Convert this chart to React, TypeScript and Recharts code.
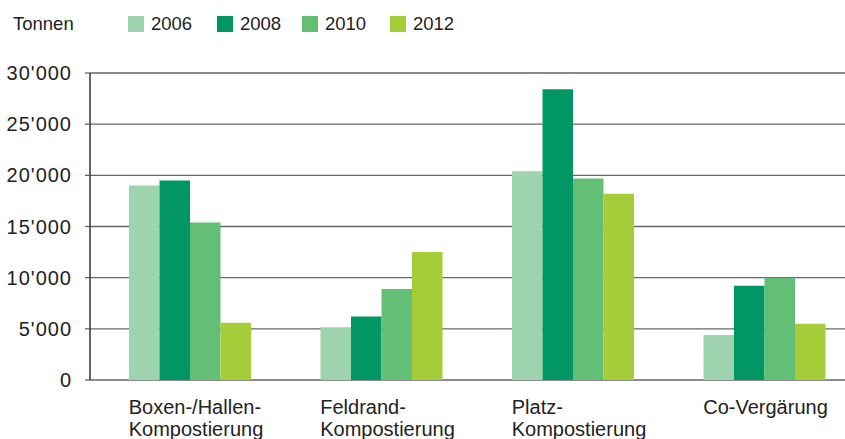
import { Bar, BarChart, CartesianGrid, XAxis, YAxis } from 'recharts';

const categories = [
    'Boxen-/Hallen-\nKompostierung',
    'Feldrand-\nKompostierung',
    'Platz-\nKompostierung',
    'Co-Vergärung',
];
const years = ['2006', '2008', '2010', '2012'];
const values2006 = [19000, 5150, 20400, 4400];
const values2008 = [19500, 6200, 28400, 9200];
const values2010 = [15400, 8900, 19700, 10000];
const values2012 = [5600, 12500, 18200, 5500];
const yTicks = [0, 5000, 10000, 15000, 20000, 25000, 30000];

const colors = ['#9dd3ad', '#009765', '#63bf76', '#a4cd39'];
const font = '"Liberation Sans", Arial, sans-serif';
const textColor = '#222';

const data = categories.map((name, i) => ({
    name,
    y2006: values2006[i],
    y2008: values2008[i],
    y2010: values2010[i],
    y2012: values2012[i],
}));

const formatTick = (v: number) =>
    v >= 1000 ? `${Math.floor(v / 1000)}'${String(v % 1000).padStart(3, '0')}` : String(v);

function CategoryTick({ x, y, payload }: any) {
    const lines = String(payload.value).split('\n');
    return (
        <text
            x={x - 61}
            y={y}
            fill={textColor}
            fontFamily={font}
            fontSize={20}
            textAnchor="start"
        >
            {lines.map((line, i) => (
                <tspan key={i} x={x - 61} y={y + 34 + i * 22}>
                    {line}
                </tspan>
            ))}
        </text>
    );
}

export default function App() {
    const legendX = [128, 217, 302, 390];
    return (
        <div
            style={{
                position: 'fixed',
                left: 0,
                top: 0,
                width: 845,
                height: 439,
                overflow: 'hidden',
                background: '#fff',
                fontFamily: font,
                color: textColor,
            }}
        >
            <div
                style={{
                    position: 'absolute',
                    left: 13,
                    top: 13,
                    fontSize: 18.5,
                    lineHeight: '22px',
                }}
            >
                Tonnen
            </div>
            {years.map((year, i) => (
                <div key={year}>
                    <div
                        style={{
                            position: 'absolute',
                            left: legendX[i],
                            top: 16,
                            width: 16,
                            height: 16,
                            background: colors[i],
                        }}
                    />
                    <div
                        style={{
                            position: 'absolute',
                            left: legendX[i] + 23,
                            top: 13,
                            fontSize: 18.5,
                            lineHeight: '22px',
                        }}
                    >
                        {year}
                    </div>
                </div>
            ))}
            <BarChart
                width={860}
                height={439}
                data={data}
                margin={{ top: 73, right: 0, bottom: 0, left: 0 }}
                barGap={0}
                barSize={30.5}
                style={{ position: 'absolute', left: 0, top: 0 }}
            >
                <CartesianGrid
                    vertical={false}
                    stroke="#666"
                    strokeWidth={1.3}
                />
                <XAxis
                    dataKey="name"
                    height={59}
                    axisLine={false}
                    tickLine={false}
                    tickSize={0}
                    tickMargin={0}
                    padding={{ left: 4, right: 0 }}
                    interval={0}
                    tick={<CategoryTick />}
                />
                <YAxis
                    width={90}
                    domain={[0, 30000]}
                    ticks={yTicks}
                    interval={0}
                    tickFormatter={formatTick}
                    axisLine={{ stroke: '#111', strokeWidth: 1.3 }}
                    tickLine={{ stroke: '#666', strokeWidth: 1.3 }}
                    tickSize={5}
                    tickMargin={13}
                    tick={{
                        fill: textColor,
                        fontFamily: font,
                        fontSize: 20,
                        letterSpacing: 1,
                    }}
                />
                <Bar dataKey="y2006" fill={colors[0]} isAnimationActive={false} />
                <Bar dataKey="y2008" fill={colors[1]} isAnimationActive={false} />
                <Bar dataKey="y2010" fill={colors[2]} isAnimationActive={false} />
                <Bar dataKey="y2012" fill={colors[3]} isAnimationActive={false} />
            </BarChart>
        </div>
    );
}
